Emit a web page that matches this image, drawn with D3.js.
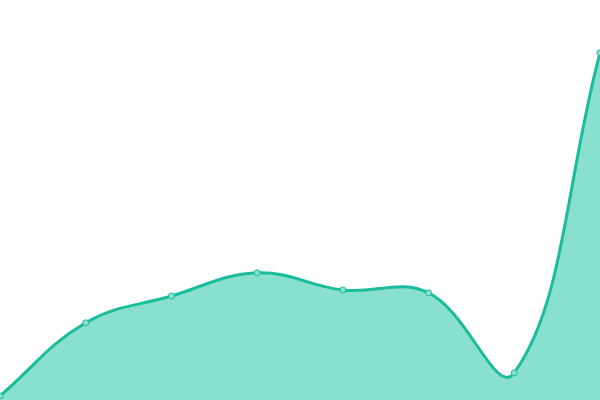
<!DOCTYPE html>
<html>
<head>
<meta charset="utf-8">
<script src="https://cdn.jsdelivr.net/npm/d3@7"></script>
<style>
  body { margin: 0; background: #fff; }
</style>
</head>
<body>
<div id="chart"></div>
<script>
// Data (no axes shown, values in chart units 0-100)
var labels = ["1", "2", "3", "4", "5", "6", "7", "8"];
var values = [1, 19.3, 26, 31.8, 27.5, 26.8, 6.8, 86.8];

var svgWidth = 600;
var svgHeight = 400;
var tension = 0.4;

var svg = d3.select("#chart")
  .append("svg")
  .attr("width", svgWidth)
  .attr("height", svgHeight);

var x = d3.scalePoint()
  .domain(labels)
  .range([0, svgWidth]);

var y = d3.scaleLinear()
  .domain([0, 100])
  .range([svgHeight, 0]);

var pts = labels.map(function (l, i) { return { x: x(l), y: y(values[i]) }; });

// distance-weighted spline control points, clamped to the chart area
var clampX = v => Math.max(0, Math.min(svgWidth, v));
var clampY = v => Math.max(0, Math.min(svgHeight, v));
pts.forEach(function (p, i) {
  var prev = pts[i - 1] || p, next = pts[i + 1] || p;
  var d01 = Math.hypot(p.x - prev.x, p.y - prev.y);
  var d12 = Math.hypot(next.x - p.x, next.y - p.y);
  var s01 = d01 / (d01 + d12 || 1), s12 = d12 / (d01 + d12 || 1);
  var fa = tension * s01, fb = tension * s12;
  p.cpPrev = { x: clampX(p.x - fa * (next.x - prev.x)), y: clampY(p.y - fa * (next.y - prev.y)) };
  p.cpNext = { x: clampX(p.x + fb * (next.x - prev.x)), y: clampY(p.y + fb * (next.y - prev.y)) };
});

function splinePath(path) {
  path.moveTo(pts[0].x, pts[0].y);
  for (var i = 1; i < pts.length; i++) {
    var a = pts[i - 1], b = pts[i];
    path.bezierCurveTo(a.cpNext.x, a.cpNext.y, b.cpPrev.x, b.cpPrev.y, b.x, b.y);
  }
  return path;
}

var areaPath = splinePath(d3.path());
areaPath.lineTo(pts[pts.length - 1].x, y(0));
areaPath.lineTo(pts[0].x, y(0));
areaPath.closePath();

svg.append("path")
  .attr("d", areaPath.toString())
  .attr("fill", "#8ae0cf");

svg.append("path")
  .attr("d", splinePath(d3.path()).toString())
  .attr("fill", "none")
  .attr("stroke", "#1abc9c")
  .attr("stroke-width", 3);

svg.selectAll("circle")
  .data(pts)
  .enter()
  .append("circle")
  .attr("cx", d => d.x)
  .attr("cy", d => d.y)
  .attr("r", 3)
  .attr("fill", "#8ae0cf")
  .attr("stroke", "#1abc9c")
  .attr("stroke-width", 1);
</script>
</body>
</html>
